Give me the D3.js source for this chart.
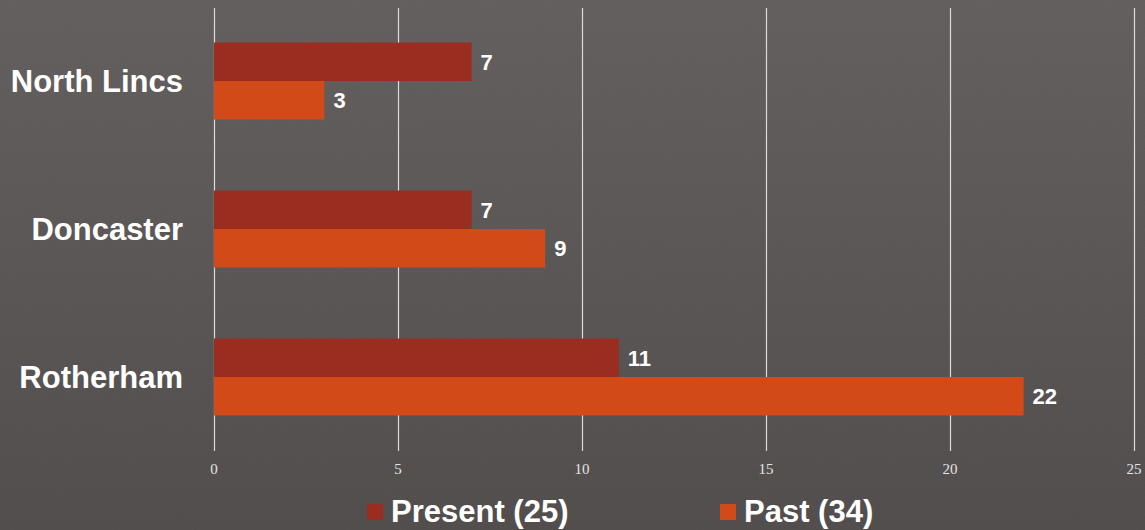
<!DOCTYPE html>
<html><head><meta charset="utf-8">
<script src="https://cdn.jsdelivr.net/npm/d3@7"></script>
<style>html,body{margin:0;padding:0;background:#5e5a59;}svg{display:block;}</style>
</head><body>
<script>
const categories = ["North Lincs", "Doncaster", "Rotherham"];
const seriesNames = ["Present (25)", "Past (34)"];
const presentValues = [7, 7, 11];
const pastValues = [3, 9, 22];
const tickValues = [0, 5, 10, 15, 20, 25];
const colors = ["#9b2d20", "#d24a18"];

const W = 1145, H = 530;
const svg = d3.select("body").append("svg").attr("width", W).attr("height", H);
const defs = svg.append("defs");
const grad = defs.append("linearGradient").attr("id","bg").attr("x1",0).attr("y1",0).attr("x2",0).attr("y2",1);
grad.append("stop").attr("offset","0%").attr("stop-color","#676362");
grad.append("stop").attr("offset","100%").attr("stop-color","#555150");
const filt = defs.append("filter").attr("id","noise").attr("x",0).attr("y",0).attr("width","100%").attr("height","100%");
filt.append("feTurbulence").attr("type","fractalNoise").attr("baseFrequency",0.9).attr("numOctaves",2).attr("seed",3).attr("result","t");
filt.append("feColorMatrix").attr("type","matrix").attr("values","0 0 0 0 0  0 0 0 0 0  0 0 0 0 0  0 0 0 0.07 0");
svg.append("rect").attr("width",W).attr("height",H).attr("fill","url(#bg)");
svg.append("rect").attr("width",W).attr("height",H).attr("filter","url(#noise)");

const x = d3.scaleLinear().domain([0, 25]).range([214, 1134]);
const y = d3.scaleBand().domain(categories).range([7, 451]).paddingInner(0.48).paddingOuter(0.24);
const ySub = d3.scaleBand().domain([0,1]).range([0, y.bandwidth()]);

// gridlines
svg.append("g").selectAll("line").data(tickValues).join("line")
  .attr("x1", d => Math.round(x(d)) + 0.5).attr("x2", d => Math.round(x(d)) + 0.5)
  .attr("y1", 8).attr("y2", 451)
  .attr("stroke", "#dcdada").attr("stroke-width", 1.2);

// tick labels
svg.append("g").selectAll("text").data(tickValues).join("text")
  .attr("x", d => x(d)).attr("y", 474)
  .attr("text-anchor","middle")
  .attr("font-family","'Liberation Serif', 'Times New Roman', serif")
  .attr("font-size", 15).attr("fill","#e6e4e4")
  .text(d => d);

// bars
const data = categories.map((c,i) => ({cat:c, vals:[presentValues[i], pastValues[i]]}));
const groups = svg.append("g").selectAll("g").data(data).join("g")
  .attr("transform", d => `translate(0,${y(d.cat)})`);
groups.selectAll("rect").data(d => d.vals.map((v,k)=>({v,k}))).join("rect")
  .attr("x", x(0)).attr("y", d => ySub(d.k))
  .attr("width", d => x(d.v) - x(0)).attr("height", ySub.bandwidth())
  .attr("fill", d => colors[d.k]);
groups.selectAll("text.val").data(d => d.vals.map((v,k)=>({v,k}))).join("text")
  .attr("class","val")
  .attr("x", d => x(d.v) + 9).attr("y", d => ySub(d.k) + ySub.bandwidth()/2 + 8)
  .attr("font-family","'Liberation Sans', Arial, sans-serif").attr("font-weight","bold")
  .attr("font-size", 22).attr("fill","#ffffff")
  .text(d => d.v);

// category labels
svg.append("g").selectAll("text").data(categories).join("text")
  .attr("x", 183).attr("y", d => y(d) + y.bandwidth()/2 + 11)
  .attr("text-anchor","end")
  .attr("font-family","'Liberation Sans', Arial, sans-serif").attr("font-weight","bold")
  .attr("font-size", 31).attr("fill","#ffffff")
  .text(d => d);

// legend
const legendX = [367, 720];
const lg = svg.append("g").selectAll("g").data(seriesNames).join("g")
  .attr("transform", (d,i) => `translate(${legendX[i]},0)`);
lg.append("rect").attr("x",0).attr("y",504).attr("width",16).attr("height",16)
  .attr("fill", (d,i) => colors[i]);
lg.append("text").attr("x", 24).attr("y", 522)
  .attr("font-family","'Liberation Sans', Arial, sans-serif").attr("font-weight","bold")
  .attr("font-size", 31).attr("fill","#ffffff")
  .text(d => d);
</script>
</body></html>
